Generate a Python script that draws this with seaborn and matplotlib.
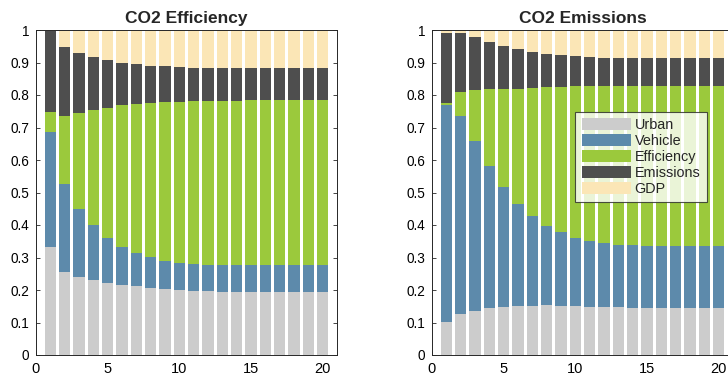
import numpy as np
import pandas as pd
import matplotlib
matplotlib.use("Agg")
import matplotlib.pyplot as plt
from matplotlib.patches import Patch
import seaborn as sns

periods = list(range(1, 21))
series_names = ["Urban", "Vehicle", "Efficiency", "Emissions", "GDP"]
colors = ["#cccccc", "#5d8aab", "#9bc93c", "#4e4e4e", "#fbe6b6"]

# Panel 1: CO2 Efficiency (shares per period)
eff_urban = [0.332, 0.255, 0.240, 0.231, 0.222, 0.215, 0.212, 0.206, 0.203, 0.200,
             0.197, 0.197, 0.194, 0.194, 0.194, 0.194, 0.194, 0.194, 0.194, 0.194]
eff_vehicle = [0.354, 0.271, 0.209, 0.169, 0.138, 0.117, 0.102, 0.096, 0.086, 0.083,
               0.083, 0.080, 0.083, 0.083, 0.083, 0.083, 0.083, 0.083, 0.083, 0.083]
eff_efficiency = [0.062, 0.209, 0.296, 0.354, 0.400, 0.437, 0.458, 0.473, 0.489, 0.495,
                  0.502, 0.505, 0.505, 0.505, 0.508, 0.508, 0.508, 0.508, 0.508, 0.508]
eff_emissions = [0.249, 0.213, 0.184, 0.163, 0.148, 0.129, 0.123, 0.114, 0.111, 0.108,
                 0.101, 0.101, 0.101, 0.101, 0.098, 0.098, 0.098, 0.098, 0.098, 0.098]
eff_gdp = [0.003, 0.052, 0.071, 0.083, 0.092, 0.102, 0.105, 0.111, 0.111, 0.114,
           0.117, 0.117, 0.117, 0.117, 0.117, 0.117, 0.117, 0.117, 0.117, 0.117]

# Panel 2: CO2 Emissions (shares per period)
emi_urban = [0.102, 0.126, 0.135, 0.145, 0.148, 0.151, 0.151, 0.154, 0.151, 0.151,
             0.148, 0.148, 0.148, 0.145, 0.145, 0.145, 0.145, 0.145, 0.145, 0.145]
emi_vehicle = [0.667, 0.609, 0.523, 0.437, 0.369, 0.314, 0.277, 0.243, 0.227, 0.209,
               0.203, 0.197, 0.190, 0.193, 0.190, 0.190, 0.190, 0.190, 0.190, 0.190]
emi_efficiency = [0.006, 0.074, 0.157, 0.236, 0.301, 0.353, 0.394, 0.428, 0.447, 0.468,
                  0.477, 0.483, 0.490, 0.490, 0.493, 0.493, 0.493, 0.493, 0.493, 0.493]
emi_emissions = [0.216, 0.182, 0.163, 0.145, 0.133, 0.124, 0.110, 0.101, 0.098, 0.092,
                 0.089, 0.086, 0.086, 0.086, 0.086, 0.086, 0.086, 0.086, 0.086, 0.086]
emi_gdp = [0.009, 0.009, 0.022, 0.037, 0.049, 0.058, 0.068, 0.074, 0.077, 0.080,
           0.083, 0.086, 0.086, 0.086, 0.086, 0.086, 0.086, 0.086, 0.086, 0.086]

panels = [
    ("CO2 Efficiency", [eff_urban, eff_vehicle, eff_efficiency, eff_emissions, eff_gdp]),
    ("CO2 Emissions", [emi_urban, emi_vehicle, emi_efficiency, emi_emissions, emi_gdp]),
]

sns.set_theme(style="white")
plt.rcParams["font.family"] = ["Liberation Sans", "DejaVu Sans"]

W, H = 728, 378
fig = plt.figure(figsize=(W / 100, H / 100), dpi=100)
ax_w = 301 / W
ax_h = 325 / H
ax_b = (H - 355) / H
axes = [fig.add_axes([36 / W, ax_b, ax_w, ax_h]),
        fig.add_axes([432 / W, ax_b, ax_w, ax_h])]

for ax, (title, layers) in zip(axes, panels):
    df = pd.DataFrame({"period": periods})
    for name, vals in zip(series_names, layers):
        df[name] = vals
    cum = df[series_names].cumsum(axis=1)
    for name, col in reversed(list(zip(series_names, colors))):
        sns.barplot(x=df["period"], y=cum[name], ax=ax, native_scale=True,
                    color=col, saturation=1, width=0.8, linewidth=0,
                    errorbar=None, zorder=1)
    ax.set_xlim(0, 21)
    ax.set_ylim(0, 1)
    ax.set_xticks([0, 5, 10, 15, 20])
    ax.set_xticklabels(["0", "5", "10", "15", "20"])
    yt = np.round(np.arange(0, 1.01, 0.1), 1)
    ax.set_yticks(yt)
    ax.set_yticklabels(["0"] + [f"{v:g}" for v in yt[1:-1]] + ["1"])
    ax.set_xlabel("")
    ax.set_ylabel("")
    ax.set_title(title, fontsize=12.5, fontweight="bold", pad=5)
    ax.tick_params(direction="in", length=3, width=0.6, color="#262626",
                   labelsize=9.8, labelcolor="#000000", top=True, right=True,
                   bottom=True, left=True, pad=5)
    ax.tick_params(axis="x", labelsize=10.5)
    for s in ax.spines.values():
        s.set_visible(True)
        s.set_color("#262626")
        s.set_linewidth(0.7)
        s.set_zorder(3)

handles = [Patch(facecolor=c, edgecolor="none", label=n) for n, c in zip(series_names, colors)]
leg = axes[1].legend(handles=handles, loc="upper left",
                     bbox_to_anchor=(575 / W, 1 - 111.7 / H),
                     bbox_transform=fig.transFigure, borderaxespad=0,
                     fontsize=10.4, frameon=True, fancybox=False,
                     handlelength=3.4, handleheight=0.9, handletextpad=0.28,
                     labelspacing=0.13, borderpad=0.45)
leg.get_frame().set_edgecolor("#262626")
leg.get_frame().set_linewidth(0.8)
leg.set_zorder(5)

fig.savefig("out.png", dpi=100)
